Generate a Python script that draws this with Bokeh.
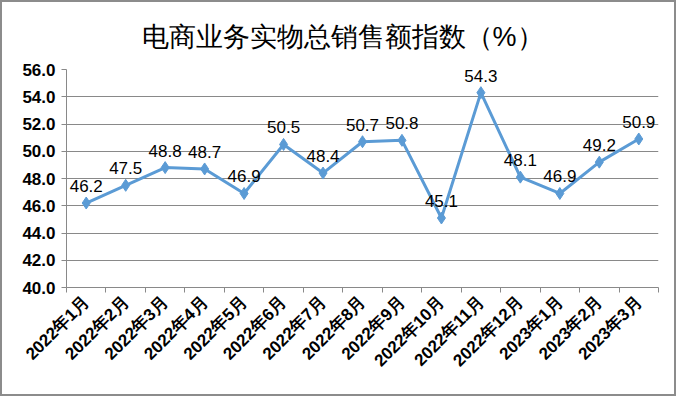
import math
from bokeh.plotting import figure
from bokeh.models import Range1d, FixedTicker, ColumnDataSource, Title
from bokeh.core.properties import value
from bokeh.embed import file_html
from bokeh.resources import INLINE

title_text = "电商业务实物总销售额指数（%）"
categories = ["2022年1月", "2022年2月", "2022年3月", "2022年4月", "2022年5月",
              "2022年6月", "2022年7月", "2022年8月", "2022年9月", "2022年10月",
              "2022年11月", "2022年12月", "2023年1月", "2023年2月", "2023年3月"]
values = [46.2, 47.5, 48.8, 48.7, 46.9, 50.5, 48.4, 50.7, 50.8, 45.1,
          54.3, 48.1, 46.9, 49.2, 50.9]
y_ticks = [40, 42, 44, 46, 48, 50, 52, 54, 56]

xs = [i + 0.5 for i in range(len(categories))]
labels = [f"{v:.1f}" for v in values]
src = ColumnDataSource(dict(x=xs, y=values, label=labels))

GREY = "#898989"
BLUE = "#5B9BD5"

p = figure(width=676, height=396, output_backend="svg", toolbar_location=None,
           x_range=Range1d(0, len(categories)), y_range=Range1d(40, 56),
           min_border_left=64, min_border_right=20, min_border_top=65,
           min_border_bottom=111)
p.styles = {"border": "2px solid #8c8c8c", "box-sizing": "border-box"}
p.outline_line_color = None
p.background_fill_color = "white"
p.border_fill_color = "white"

p.title = Title(text=title_text, align="left", offset=75,
                text_font="Liberation Sans", text_font_size="27px",
                text_font_style="normal", text_color="black", standoff=35)

# grid
p.xgrid.grid_line_color = None
p.ygrid.grid_line_color = GREY
p.ygrid.grid_line_width = 1
p.ygrid.ticker = FixedTicker(ticks=y_ticks)

# y axis
p.yaxis.ticker = FixedTicker(ticks=y_ticks)
p.yaxis.major_label_overrides = {t: f"{t:.1f}" for t in y_ticks}
p.yaxis.axis_line_color = GREY
p.yaxis.major_tick_line_color = GREY
p.yaxis.major_tick_out = 5
p.yaxis.major_tick_in = 0
p.yaxis.minor_tick_line_color = None
p.yaxis.major_label_text_font = "Liberation Sans"
p.yaxis.major_label_text_font_style = "bold"
p.yaxis.major_label_text_font_size = "17px"
p.yaxis.major_label_text_color = "black"
p.yaxis.major_label_standoff = 6

# x axis
p.xaxis.ticker = FixedTicker(ticks=xs, minor_ticks=list(range(len(categories) + 1)))
p.xaxis.major_label_overrides = {x: c for x, c in zip(xs, categories)}
p.xaxis.axis_line_color = GREY
p.xaxis.major_tick_line_color = None
p.xaxis.minor_tick_line_color = GREY
p.xaxis.minor_tick_out = 5
p.xaxis.minor_tick_in = 0
p.xaxis.major_label_orientation = math.pi / 4
p.xaxis.major_label_text_font = "Liberation Sans"
p.xaxis.major_label_text_font_style = "bold"
p.xaxis.major_label_text_font_size = "17px"
p.xaxis.major_label_text_color = "black"
p.xaxis.major_label_standoff = 6

p.line("x", "y", source=src, line_color=BLUE, line_width=3)
p.scatter("x", "y", source=src, marker="diamond", size=12,
          fill_color=BLUE, line_color=BLUE)
p.text("x", "y", text="label", source=src, text_align="center",
       text_baseline="alphabetic", y_offset=-17,
       text_font=value("Liberation Sans"), text_font_size="17px",
       text_color="black")

open("out.html", "w").write(file_html(p, INLINE))
